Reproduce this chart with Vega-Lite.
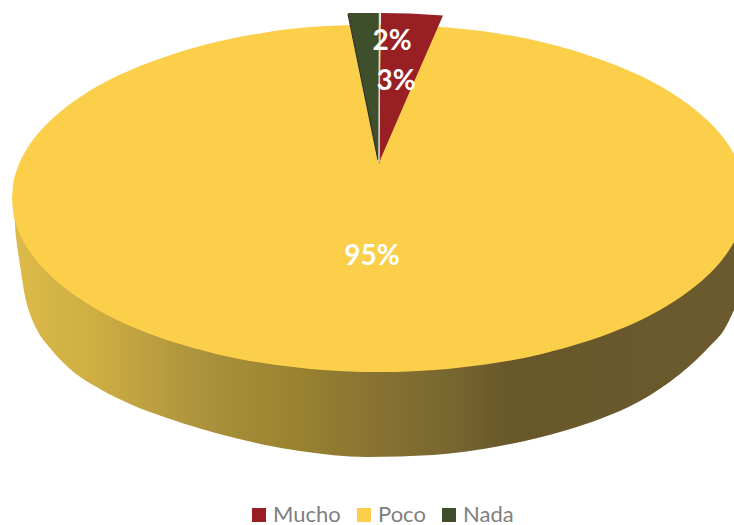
{"$schema":"https://vega.github.io/schema/vega-lite/v6.json","width":734,"height":525,"padding":0,"autosize":{"type":"none"},"background":"white","config":{"view":{"stroke":null},"font":"Lato"},
"datasets":{
"wall":[{"x":14,"y":200,"y2":205},{"x":15,"y":200,"y2":225},{"x":17,"y":200,"y2":245},{"x":20,"y":200,"y2":265},{"x":25,"y":200,"y2":296},{"x":30,"y":200,"y2":314},{"x":37,"y":200,"y2":330},{"x":50,"y":200,"y2":348},{"x":70,"y":200,"y2":369},{"x":100,"y":200,"y2":389},{"x":130,"y":200,"y2":404},{"x":167,"y":200,"y2":418},{"x":200,"y":200,"y2":428.5},{"x":233,"y":200,"y2":437.5},{"x":265,"y":200,"y2":445},{"x":300,"y":200,"y2":451},{"x":367,"y":200,"y2":457},{"x":433,"y":200,"y2":455},{"x":500,"y":200,"y2":446},{"x":567,"y":200,"y2":430},{"x":600,"y":200,"y2":419},{"x":640,"y":200,"y2":401},{"x":680,"y":200,"y2":374},{"x":710,"y":200,"y2":346},{"x":724,"y":200,"y2":330},{"x":734,"y":200,"y2":310}],
"top":[
{"cat":"Poco","x":12,"y":198,"y2":198},{"cat":"Poco","x":13,"y":185.2,"y2":210.8},{"cat":"Poco","x":15,"y":175.8,"y2":220.2},{"cat":"Poco","x":18,"y":166.7,"y2":229.3},{"cat":"Poco","x":22,"y":157.6,"y2":238.4},{"cat":"Poco","x":28,"y":147.2,"y2":248.8},{"cat":"Poco","x":36,"y":136.1,"y2":259.9},{"cat":"Poco","x":48,"y":122.8,"y2":273.2},{"cat":"Poco","x":64,"y":108.7,"y2":287.3},{"cat":"Poco","x":84,"y":94.5,"y2":301.5},{"cat":"Poco","x":110,"y":79.6,"y2":316.4},{"cat":"Poco","x":140,"y":66,"y2":330},{"cat":"Poco","x":175,"y":53.4,"y2":342.6},{"cat":"Poco","x":215,"y":42.3,"y2":353.7},{"cat":"Poco","x":260,"y":33.4,"y2":362.6},{"cat":"Poco","x":310,"y":27.1,"y2":368.9},{"cat":"Poco","x":379,"y":24.5,"y2":372},{"cat":"Poco","x":448,"y":27.5,"y2":368.9},{"cat":"Poco","x":498,"y":33.4,"y2":362.6},{"cat":"Poco","x":543,"y":42.3,"y2":353.7},{"cat":"Poco","x":583,"y":53.4,"y2":342.6},{"cat":"Poco","x":618,"y":66,"y2":330},{"cat":"Poco","x":648,"y":79.6,"y2":316.4},{"cat":"Poco","x":674,"y":94.5,"y2":301.5},{"cat":"Poco","x":694,"y":108.7,"y2":287.3},{"cat":"Poco","x":710,"y":122.8,"y2":273.2},{"cat":"Poco","x":722,"y":136.1,"y2":259.9},{"cat":"Poco","x":730,"y":147.2,"y2":248.8},{"cat":"Poco","x":734,"y":154,"y2":242}],
"slices":[
{"cat":"Nada","x":348,"y":13,"y2":13},{"cat":"Nada","x":378,"y":13,"y2":160},{"cat":"Nada","x":379,"y":13,"y2":163},
{"cat":"Mucho","x":379,"y":160,"y2":164},{"cat":"Mucho","x":381,"y":13,"y2":158},{"cat":"Mucho","x":410,"y":13.5,"y2":91},{"cat":"Mucho","x":443,"y":15.5,"y2":15.5}],
"edges":[{"x":348,"y":14,"x2":378,"y2":160,"kind":"shade"},{"x":379.5,"y":13,"x2":379,"y2":162,"kind":"gap"}],
"labels":[{"x":392,"y":42,"t":"2%"},{"x":396,"y":82,"t":"3%"},{"x":372,"y":257,"t":"95%"}]},
"layer":[
{"data":{"name":"wall"},"mark":{"type":"area","interpolate":"monotone","fill":{"gradient":"linear","x1":0,"x2":1,"y1":0,"y2":0,"stops":[{"offset":0,"color":"#dcbb4a"},{"offset":0.12,"color":"#cdac42"},{"offset":0.26,"color":"#ab923c"},{"offset":0.4,"color":"#98822f"},{"offset":0.49,"color":"#8a7433"},{"offset":0.61,"color":"#776630"},{"offset":0.69,"color":"#685729"},{"offset":1,"color":"#6a5a2e"}]}},
"encoding":{"x":{"field":"x","type":"quantitative","scale":{"domain":[0,734],"nice":false,"zero":false},"axis":null},"y":{"field":"y","type":"quantitative","scale":{"domain":[525,0],"nice":false,"zero":false},"axis":null},"y2":{"field":"y2"}}},
{"data":{"name":"top"},"mark":{"type":"area","interpolate":"monotone"},
"encoding":{"x":{"field":"x","type":"quantitative","axis":null},"y":{"field":"y","type":"quantitative","axis":null},"y2":{"field":"y2"},
"color":{"field":"cat","type":"nominal","sort":["Mucho","Poco","Nada"],"scale":{"domain":["Mucho","Poco","Nada"],"range":["#982024","#fbcf4a","#3f4e2b"]},
"legend":{"title":null,"orient":"none","direction":"horizontal","legendX":248,"legendY":504,"symbolType":"square","symbolSize":196,"symbolStrokeWidth":0,"labelFont":"Lato","labelFontSize":22,"labelColor":"#7f7f7f","columnPadding":12,"labelOffset":3,"padding":0,"symbolOpacity":1}}}},
{"data":{"name":"slices"},"mark":{"type":"area"},
"encoding":{"x":{"field":"x","type":"quantitative","axis":null},"y":{"field":"y","type":"quantitative","axis":null},"y2":{"field":"y2"},
"color":{"field":"cat","type":"nominal"}}},
{"data":{"name":"edges"},"transform":[{"filter":"datum.kind==='shade'"}],"mark":{"type":"rule"},"encoding":{"x":{"field":"x","type":"quantitative","axis":null},"y":{"field":"y","type":"quantitative","axis":null},"x2":{"field":"x2"},"y2":{"field":"y2"},"color":{"value":"#2b2f26"},"strokeWidth":{"value":1.2}}},
{"data":{"name":"edges"},"transform":[{"filter":"datum.kind==='gap'"}],"mark":{"type":"rule"},"encoding":{"x":{"field":"x","type":"quantitative","axis":null},"y":{"field":"y","type":"quantitative","axis":null},"x2":{"field":"x2"},"y2":{"field":"y2"},"color":{"value":"#d9dcd6"},"strokeWidth":{"value":1.5}}},
{"data":{"name":"labels"},"mark":{"type":"text","font":"Lato","fontWeight":"bold","fontSize":28,"fill":"white","align":"center","baseline":"middle"},"encoding":{"x":{"field":"x","type":"quantitative","axis":null},"y":{"field":"y","type":"quantitative","axis":null},"text":{"field":"t"}}}
]}
